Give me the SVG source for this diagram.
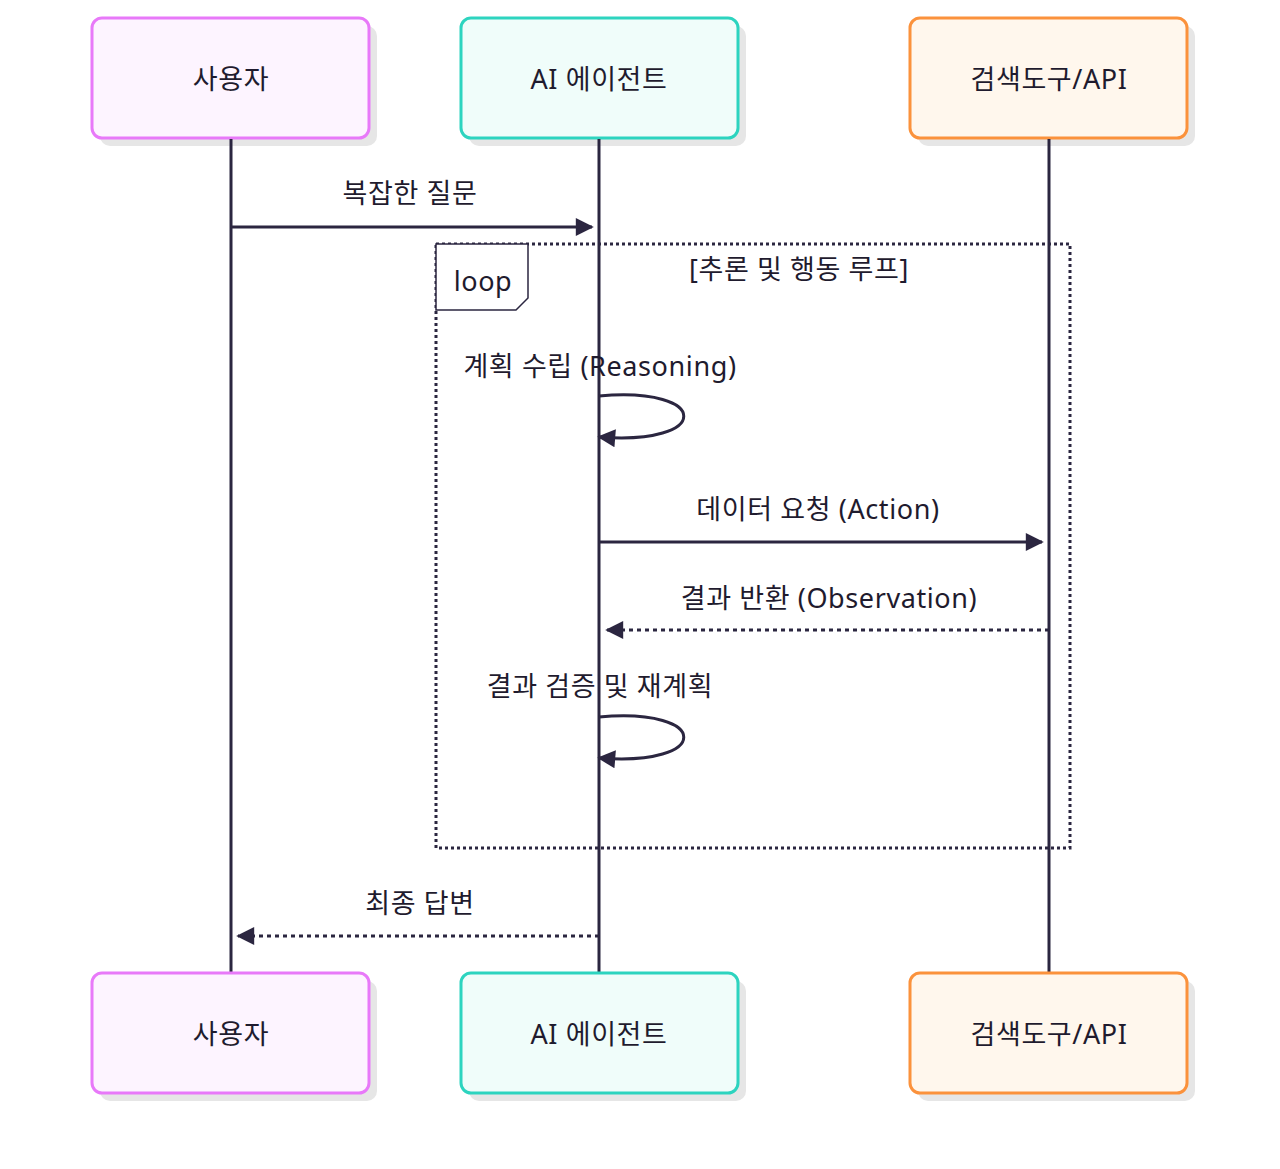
<svg xmlns="http://www.w3.org/2000/svg" width="1280" height="1169" viewBox="0 0 1280 1169">
<style>
text{font-family:"Noto Sans","Noto Sans CJK KR",sans-serif;font-size:27px;letter-spacing:0.6px;fill:#1f1b2e;text-anchor:middle;dominant-baseline:central}
.sh{fill:#e6e6e6}
.u{fill:#fdf4ff;stroke:#e879f9;stroke-width:3}
.a{fill:#f0fdfa;stroke:#2dd4bf;stroke-width:3}
.s{fill:#fff7ed;stroke:#fb923c;stroke-width:3}
.life{stroke:#2b2640;stroke-width:3}
.m{stroke:#2b2640;stroke-width:3;fill:none}
.d{stroke-dasharray:4 4}
</style>
<defs>
<marker id="ar" viewBox="0 0 10 10" refX="9" refY="5" markerWidth="22" markerHeight="18" orient="auto" markerUnits="userSpaceOnUse"><path d="M0,0 L10,5 L0,10 Z" fill="#2b2640"/></marker>
</defs>
<g id="p_user_top"><rect class="sh" x="100" y="26" width="277" height="120" rx="10"/><rect class="u" x="92" y="18" width="277" height="120" rx="10"/><text x="231" y="78">사용자</text></g>
<g id="p_agent_top"><rect class="sh" x="469" y="26" width="277" height="120" rx="10"/><rect class="a" x="461" y="18" width="277" height="120" rx="10"/><text x="599" y="78">AI 에이전트</text></g>
<g id="p_tool_top"><rect class="sh" x="918" y="26" width="277" height="120" rx="10"/><rect class="s" x="910" y="18" width="277" height="120" rx="10"/><text x="1049" y="78">검색도구/API</text></g>
<g id="lifelines">
<line class="life" x1="231" y1="139" x2="231" y2="973"/>
<line class="life" x1="599" y1="139" x2="599" y2="973"/>
<line class="life" x1="1049" y1="139" x2="1049" y2="973"/>
</g>
<g id="p_user_bot"><rect class="sh" x="100" y="981" width="277" height="120" rx="10"/><rect class="u" x="92" y="973" width="277" height="120" rx="10"/><text x="231" y="1033">사용자</text></g>
<g id="p_agent_bot"><rect class="sh" x="469" y="981" width="277" height="120" rx="10"/><rect class="a" x="461" y="973" width="277" height="120" rx="10"/><text x="599" y="1033">AI 에이전트</text></g>
<g id="p_tool_bot"><rect class="sh" x="918" y="981" width="277" height="120" rx="10"/><rect class="s" x="910" y="973" width="277" height="120" rx="10"/><text x="1049" y="1033">검색도구/API</text></g>
<g id="loop">
<rect x="436" y="244" width="634" height="604" fill="none" stroke="#2b2640" stroke-width="3" stroke-dasharray="3 3"/>
<path d="M436,244 H528 V298 L516,310 H436 Z" fill="#fff" stroke="#2b2640" stroke-width="1.5"/>
<text x="483" y="280">loop</text>
<text x="799" y="268">[추론 및 행동 루프]</text>
</g>
<g id="connectors">
<line class="m" x1="231" y1="227" x2="592" y2="227" marker-end="url(#ar)"/>
<text x="410" y="192">복잡한 질문</text>
<path class="m" d="M599,396 C712,386 712,446 599,437" marker-end="url(#ar)"/>
<text x="600" y="365">계획 수립 (Reasoning)</text>
<line class="m" x1="599" y1="542" x2="1042" y2="542" marker-end="url(#ar)"/>
<text x="818" y="508">데이터 요청 (Action)</text>
<line class="m d" x1="1049" y1="630" x2="607" y2="630" marker-end="url(#ar)"/>
<text x="829" y="597">결과 반환 (Observation)</text>
<path class="m" d="M599,717 C712,707 712,767 599,758" marker-end="url(#ar)"/>
<text x="600" y="685">결과 검증 및 재계획</text>
<line class="m d" x1="599" y1="936" x2="238" y2="936" marker-end="url(#ar)"/>
<text x="420" y="902">최종 답변</text>
</g>
</svg>
